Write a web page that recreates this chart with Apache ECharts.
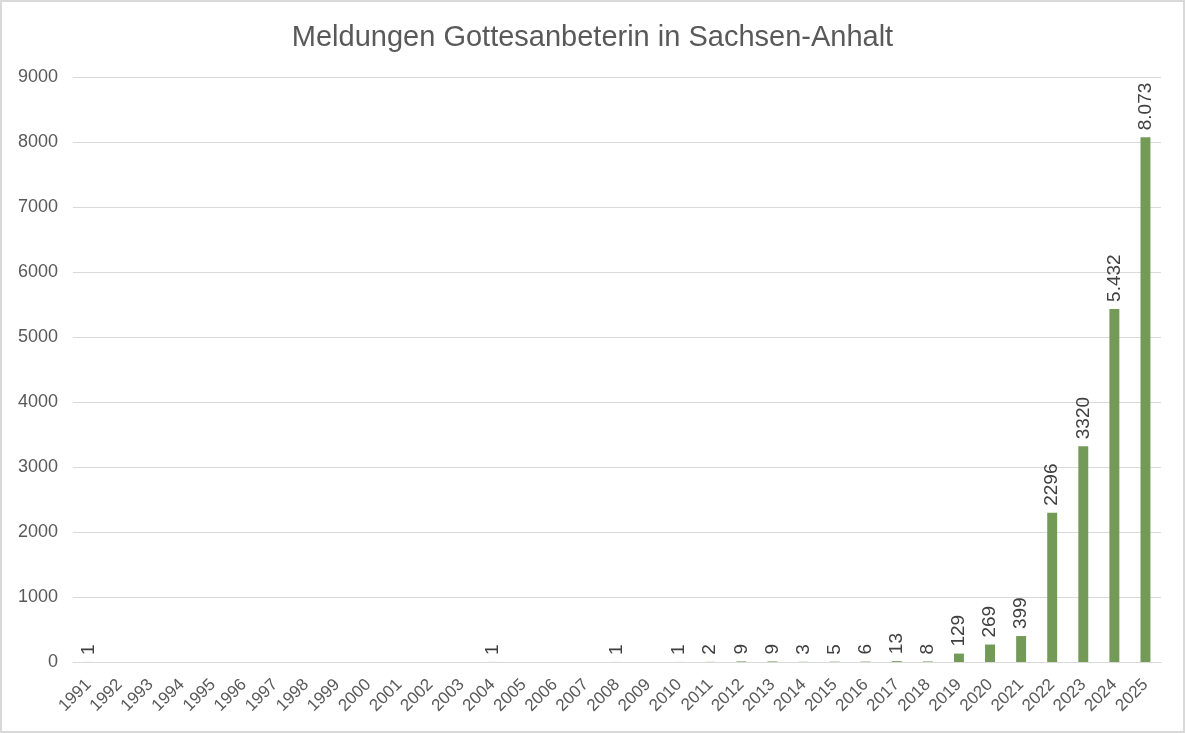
<!DOCTYPE html>
<html><head><meta charset="utf-8">
<script src="https://cdn.jsdelivr.net/npm/echarts@6/dist/echarts.min.js"></script>
<style>
html,body{margin:0;padding:0;background:#fff;}
#c{position:absolute;left:0;top:0;width:1181px;height:729px;border:2px solid #d9d9d9;}
</style></head>
<body><div id="c"></div>
<script>
const years = ['1991','1992','1993','1994','1995','1996','1997','1998','1999','2000','2001','2002','2003','2004','2005','2006','2007','2008','2009','2010','2011','2012','2013','2014','2015','2016','2017','2018','2019','2020','2021','2022','2023','2024','2025'];
const counts = [1,null,null,null,null,null,null,null,null,null,null,null,null,1,null,null,null,1,null,1,2,9,9,3,5,6,13,8,129,269,399,2296,3320,5432,8073];
const countLabels = ['1','','','','','','','','','','','','','1','','','','1','','1','2','9','9','3','5','6','13','8','129','269','399','2296','3320','5.432','8.073'];
const yTicks = [0,1000,2000,3000,4000,5000,6000,7000,8000,9000];

const FONT = 'Liberation Sans, Arial, sans-serif';
const chart = echarts.init(document.getElementById('c'));
chart.setOption({
  animation:false,
  title:{text:'Meldungen Gottesanbeterin in Sachsen-Anhalt',left:'center',top:16,
    textStyle:{color:'#595959',fontSize:29,fontWeight:'normal',fontFamily:FONT}},
  grid:{left:71,right:22,top:75,bottom:69},
  xAxis:{type:'category',data:years,
    axisLine:{lineStyle:{color:'#d9d9d9',width:1}},axisTick:{show:false},
    axisLabel:{rotate:45,interval:0,color:'#595959',fontSize:17,margin:20,fontFamily:FONT}},
  yAxis:{type:'value',min:yTicks[0],max:yTicks[yTicks.length-1],interval:1000,
    splitLine:{lineStyle:{color:'#d9d9d9',width:1}},axisLine:{show:false},axisTick:{show:false},
    axisLabel:{color:'#595959',fontSize:18,margin:15,fontFamily:FONT,formatter:v=>String(v)}},
  series:[{type:'bar',data:counts,barWidth:'32%',
    itemStyle:{color:'#739A57'},
    label:{show:true,position:'top',rotate:90,align:'left',verticalAlign:'middle',distance:7,
      color:'#404040',fontSize:19,fontFamily:FONT,
      formatter:p=>countLabels[p.dataIndex]}}]
});
</script></body></html>
